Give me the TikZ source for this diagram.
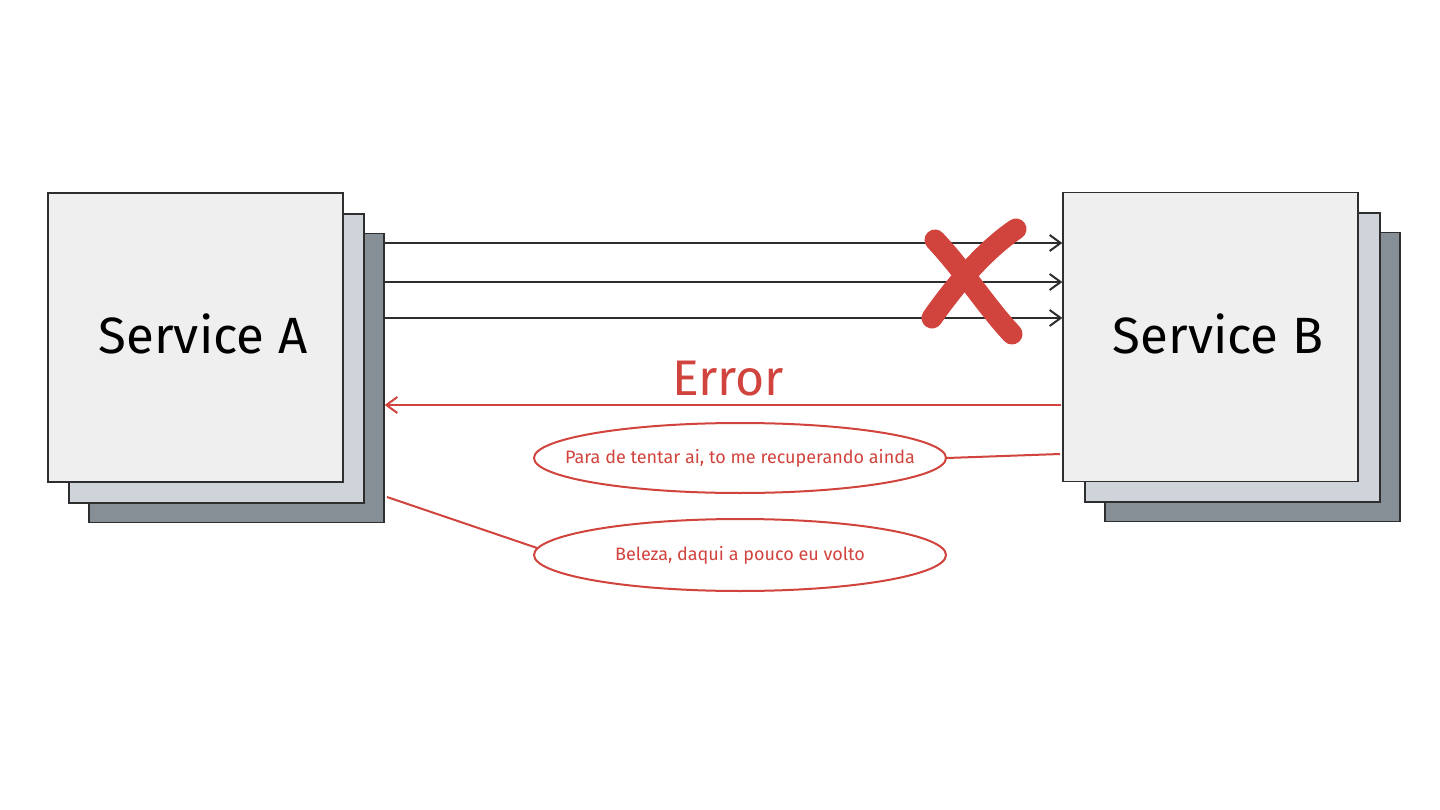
\documentclass[tikz,border=0pt]{standalone}
\usepackage{fontspec}
\setmainfont{Fira Sans}
\usetikzlibrary{shapes.geometric,arrows.meta}
\definecolor{frontfill}{HTML}{EFEFEF}
\definecolor{midfill}{HTML}{CED4DA}
\definecolor{backfill}{HTML}{868E96}
\definecolor{edge}{HTML}{2E2E2E}
\definecolor{errred}{HTML}{D1443E}
\tikzset{
  card/.style={draw=edge, line width=1.3pt, minimum width=295pt, minimum height=289pt, inner sep=0pt},
  flow/.style={draw=edge, line width=2pt, -{Straight Barb[length=11pt,width=16pt,line width=2pt]}},
  errflow/.style={draw=errred, line width=2pt, -{Straight Barb[length=11pt,width=16pt,line width=2pt]}},
  bubble/.style={ellipse, draw=errred, line width=2pt, minimum width=412pt, minimum height=70pt, inner sep=0pt, text=errred, font=\fontsize{18}{21}\selectfont},
  tie/.style={draw=errred, line width=2pt},
  cross/.style={draw=errred, line width=21pt, line cap=round},
  svc/.style={font=\fontsize{51}{60}\selectfont, text=black}
}
\begin{document}
\begin{tikzpicture}[x=1pt,y=-1pt]
\useasboundingbox[fill=white] (0,0) rectangle (1440,810);
% Service A stack
\node[card, fill=backfill] (backA) at (236.5,378) {};
\node[card, fill=midfill] (midA) at (216.5,358.5) {};
\node[card, fill=frontfill] (frontA) at (195.5,337.5) {};
\node[svc] (labA) at (203,334) {Service A};
% Service B stack
\node[card, fill=backfill] (backB) at (1252.5,377) {};
\node[card, fill=midfill] (midB) at (1232.5,357.5) {};
\node[card, fill=frontfill] (frontB) at (1210.5,337) {};
\node[svc] (labB) at (1218,334) {Service B};
% requests
\coordinate (r1) at (385,243);
\coordinate (r2) at (385,282);
\coordinate (r3) at (385,318);
\draw[flow] (r1) -- (r1 -| frontB.west);
\draw[flow] (r2) -- (r2 -| frontB.west);
\draw[flow] (r3) -- (r3 -| frontB.west);
% cross
\coordinate (x1a) at (935,240);
\coordinate (x1b) at (1012,334);
\coordinate (x2a) at (1016,229);
\coordinate (x2b) at (932,318);
\draw[cross] (x1a) .. controls (965,272) and (985,305) .. (x1b);
\draw[cross] (x2a) .. controls (985,250) and (955,285) .. (x2b);
% error
\coordinate (e0) at (1061,405);
\draw[errflow] (e0) -- (e0 -| backA.east);
\node[text=errred, font=\fontsize{50}{58}\selectfont] (errlab) at (728,379) {Error};
% bubbles
\node[bubble] (b1) at (740,458) {\makebox[0pt]{Para de tentar ai, to me recuperando ainda}};
\node[bubble, minimum height=72pt] (b2) at (740,555) {\makebox[0pt]{Beleza, daqui a pouco eu volto}};
\coordinate (t1) at (1060,454);
\draw[tie] (b1.east) -- (t1);
\coordinate (t2) at (387,497);
\draw[tie] (t2) -- (b2.178);
\end{tikzpicture}
\end{document}
